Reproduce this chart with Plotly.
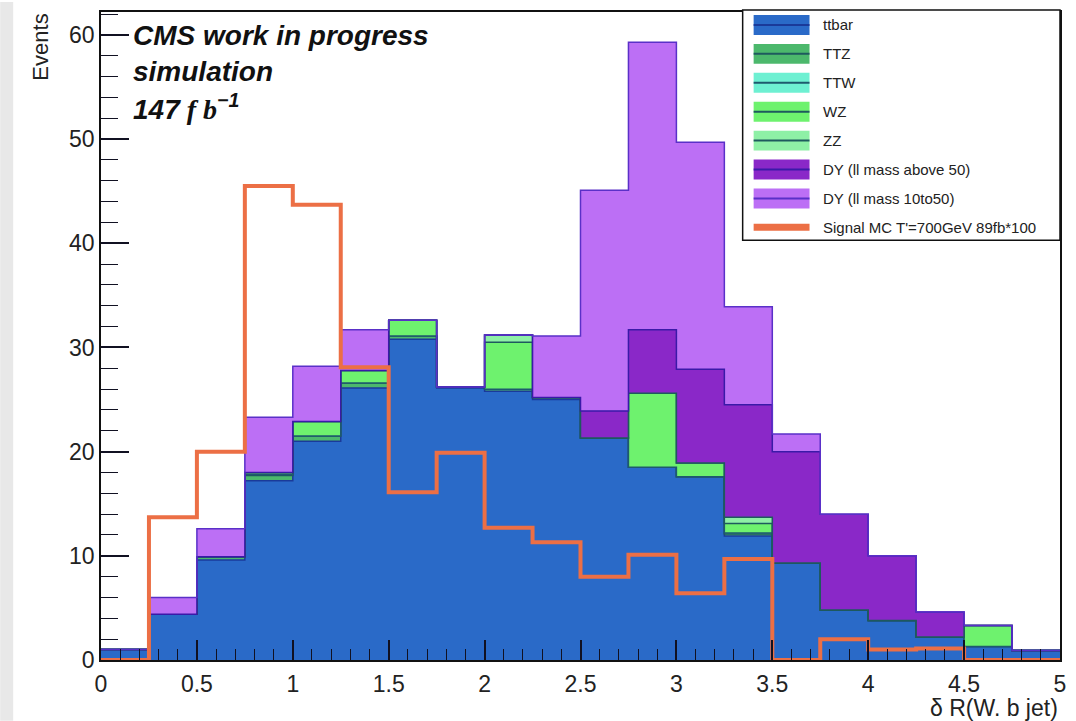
import numpy as np
import plotly.graph_objects as go

# ---------------- data ----------------
bin_edges = [0.0, 0.25, 0.5, 0.75, 1.0, 1.25, 1.5, 1.75, 2.0, 2.25, 2.5,
             2.75, 3.0, 3.25, 3.5, 3.75, 4.0, 4.25, 4.5, 4.75, 5.0]

ttbar    = [1.0, 4.4, 9.6, 17.2, 21.0, 26.1, 30.8, 26.1, 25.8, 25.0,
            21.3, 18.5, 17.6, 11.9, 9.3, 4.8, 3.8, 2.2, 1.3, 0.9]
ttz      = [0.0, 0.0, 0.3, 0.5, 0.5, 0.5, 0.3, 0.1, 0.2, 0.2,
            0.0, 0.0, 0.0, 0.2, 0.0, 0.0, 0.0, 0.0, 0.0, 0.0]
ttw      = [0.0, 0.0, 0.0, 0.1, 0.0, 0.0, 0.0, 0.0, 0.0, 0.0,
            0.0, 0.0, 0.0, 0.1, 0.0, 0.0, 0.0, 0.0, 0.0, 0.0]
wz       = [0.0, 0.0, 0.0, 0.2, 1.4, 1.2, 1.5, 0.0, 4.5, 0.0,
            0.0, 7.1, 1.3, 0.9, 0.0, 0.0, 0.0, 0.0, 2.0, 0.0]
zz       = [0.0, 0.0, 0.0, 0.0, 0.0, 0.0, 0.0, 0.0, 0.7, 0.0,
            0.0, 0.0, 0.0, 0.6, 0.0, 0.0, 0.0, 0.0, 0.0, 0.0]
dy_50    = [0.0, 0.0, 0.0, 0.0, 0.0, 0.0, 0.0, 0.0, 0.0, 0.0,
            2.6, 6.1, 9.0, 10.8, 10.7, 9.2, 6.2, 2.4, 0.0, 0.0]
dy_10to50 = [0.0, 1.6, 2.7, 5.3, 5.3, 3.9, 0.0, 0.0, 0.0, 5.9,
             21.2, 27.6, 21.8, 9.4, 1.7, 0.0, 0.0, 0.0, 0.0, 0.0]
signal   = [0.0, 13.7, 20.0, 45.5, 43.7, 28.1, 16.1, 19.9, 12.7, 11.3,
            8.0, 10.1, 6.4, 9.7, 0.0, 2.0, 1.0, 1.1, 0.0, 0.0]

labels = ["ttbar", "TTZ", "TTW", "WZ", "ZZ",
          "DY (ll mass above 50)", "DY (ll mass 10to50)"]
signal_label = "Signal MC T'=700GeV 89fb*100"

fill_colors = ["#2a6ac8", "#4cb86c", "#6ef0d2", "#6ef26e", "#8ef0a6",
               "#8a28c8", "#bc6ff5"]
line_colors = ["#1a3a9a", "#1e5a5e", "#1e5a6e", "#1e5a5e", "#1e5a5e",
               "#3a1aa8", "#5a30c8"]
signal_color = "#ec6f45"

layers = [ttbar, ttz, ttw, wz, zz, dy_50, dy_10to50]

# ---------------- figure ----------------
W, H = 1076, 721
L, R, T, B = 101, 14, 10, 61
PW, PH = W - L - R, H - T - B


def px(xp):
    return (xp - L) / PW


def py(yp):
    return (H - B - yp) / PH


fig = go.Figure()

cum = np.zeros(len(ttbar))
for i, (vals, fc, lc) in enumerate(zip(layers, fill_colors, line_colors)):
    cum = cum + np.array(vals)
    yy = list(cum) + [cum[-1]]
    fig.add_trace(go.Scatter(
        x=bin_edges, y=yy, mode="lines", line_shape="hv",
        line=dict(color=lc, width=1.5), fill="tozeroy" if i == 0 else "tonexty",
        fillcolor=fc, name=labels[i], showlegend=False, hoverinfo="skip"))

sig_y = list(signal) + [signal[-1]]
fig.add_trace(go.Scatter(
    x=bin_edges, y=sig_y, mode="lines", line_shape="hv",
    line=dict(color=signal_color, width=4), name=signal_label,
    showlegend=False, cliponaxis=False, hoverinfo="skip"))

font_main = "Liberation Sans, Arial, sans-serif"

fig.update_layout(
    width=W, height=H,
    margin=dict(l=L, r=R, t=T, b=B),
    paper_bgcolor="white", plot_bgcolor="white",
    showlegend=False,
    font=dict(family=font_main, color="#222222", size=22),
)

fig.update_xaxes(
    range=[0, 5], tick0=0, dtick=0.5, ticks="inside", ticklen=20, tickwidth=1.5,
    tickcolor="#111122", showline=True, mirror=True, linecolor="#111111", linewidth=1.5,
    showgrid=False, zeroline=False, ticklabelstandoff=3,
    tickfont=dict(size=23, family=font_main, color="#222222"),
    minor=dict(dtick=0.1, ticks="inside", ticklen=11, tickwidth=1.2, tickcolor="#111122",
               showgrid=False),
)
fig.update_yaxes(
    range=[0, 62.2], tick0=0, dtick=10, ticks="inside", ticklen=28, tickwidth=1.5,
    tickcolor="#111122", showline=True, mirror=True, linecolor="#111111", linewidth=1.5,
    showgrid=False, zeroline=False,
    tickfont=dict(size=23, family=font_main, color="#222222"),
    minor=dict(dtick=2, ticks="inside", ticklen=17, tickwidth=1.2, tickcolor="#111122",
               showgrid=False),
)

shapes = []
annotations = []

# grey strip at left edge of the slide
shapes.append(dict(type="rect", xref="paper", yref="paper",
                   x0=px(0), x1=px(13), y0=py(H), y1=py(0),
                   fillcolor="#e8e8e8", line=dict(width=0), layer="below"))

# legend box
shapes.append(dict(type="rect", xref="paper", yref="paper",
                   x0=px(744), x1=px(1062), y0=py(239), y1=py(8),
                   fillcolor="white", line=dict(color="#111111", width=1.5)))
row_y = [23, 52, 81, 110, 139, 168, 197, 226]
for i, lab in enumerate(labels):
    yc = row_y[i]
    shapes.append(dict(type="rect", xref="paper", yref="paper",
                       x0=px(755), x1=px(811), y0=py(yc + 10), y1=py(yc - 10),
                       fillcolor=fill_colors[i], line=dict(width=0)))
    shapes.append(dict(type="line", xref="paper", yref="paper",
                       x0=px(755), x1=px(811), y0=py(yc), y1=py(yc),
                       line=dict(color=line_colors[i], width=2)))
    annotations.append(dict(xref="paper", yref="paper", x=px(823), y=py(yc),
                            xanchor="left", yanchor="middle", text=lab, showarrow=False,
                            font=dict(size=15, family=font_main, color="#222222")))
yc = row_y[-1]
shapes.append(dict(type="rect", xref="paper", yref="paper",
                   x0=px(755), x1=px(811), y0=py(yc + 3.5), y1=py(yc - 3.5),
                   fillcolor=signal_color, line=dict(width=0)))
annotations.append(dict(xref="paper", yref="paper", x=px(823), y=py(yc),
                        xanchor="left", yanchor="middle", text=signal_label, showarrow=False,
                        font=dict(size=15, family=font_main, color="#222222")))

# CMS text
cms_font = dict(size=28, family=font_main, color="#111111")
annotations.append(dict(xref="paper", yref="paper", x=px(131), y=py(34),
                        xanchor="left", yanchor="middle", showarrow=False,
                        text="<b><i>CMS work in progress</i></b>", font=cms_font))
annotations.append(dict(xref="paper", yref="paper", x=px(131), y=py(70),
                        xanchor="left", yanchor="middle", showarrow=False,
                        text="<b><i>simulation</i></b>", font=cms_font))
annotations.append(dict(xref="paper", yref="paper", x=px(131), y=py(105),
                        xanchor="left", yanchor="middle", showarrow=False,
                        text="<b><i>147</i></b><span style='font-family:Liberation Serif'>"
                             "<b><i> f b</i></b></span><sup><b><i>\u22121</i></b></sup>",
                        font=cms_font))

# axis titles
annotations.append(dict(xref="paper", yref="paper", x=px(40), y=py(10),
                        xanchor="center", yanchor="top", textangle=-90, showarrow=False,
                        text="Events", font=dict(size=22, family=font_main, color="#222222")))
annotations.append(dict(xref="paper", yref="paper", x=px(1062), y=py(708),
                        xanchor="right", yanchor="middle", showarrow=False,
                        text="\u03b4 R(W. b jet)",
                        font=dict(size=23, family=font_main, color="#222222")))

fig.update_layout(shapes=shapes, annotations=annotations)

fig.write_html("out.html")
